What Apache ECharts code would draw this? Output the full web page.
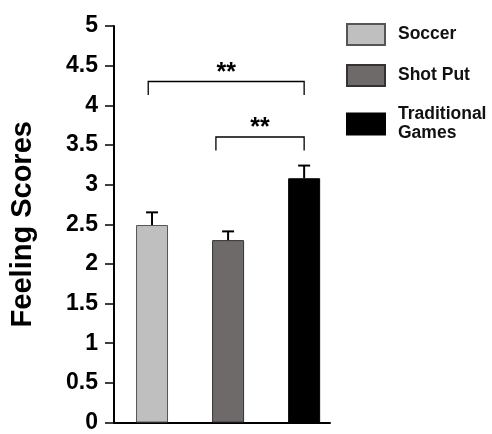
<!DOCTYPE html>
<html>
<head>
<meta charset="utf-8">
<script src="https://cdn.jsdelivr.net/npm/echarts@6/dist/echarts.min.js"></script>
<style>html,body{margin:0;padding:0;background:#fff}#c{width:492px;height:434px}</style>
</head>
<body>
<div id="c"></div>
<script>
// ---- data ----
var groups = ['Soccer', 'Shot Put', 'Traditional\nGames'];
var groupX = [0.5, 1.5, 2.5];
var means = [2.49, 2.30, 3.08];
var errors = [0.16, 0.11, 0.16];
var yTicks = [0, 0.5, 1, 1.5, 2, 2.5, 3, 3.5, 4, 4.5, 5];
// significance brackets: [xStart, xEnd, yTop, yEnd, labelY, label]
var bracketStart = [0.45, 1.34];
var bracketEnd = [2.5, 2.5];
var bracketTop = [4.30, 3.60];
var bracketFoot = [4.13, 3.43];
var bracketLabelY = [4.40, 3.71];
var bracketLabel = ['**', '**'];

var fills = ['#bfbfbf', '#6e6a6a', '#000000'];
var borders = ['#555555', '#333333', '#000000'];
var FONT = '"Liberation Sans", Arial, sans-serif';

var series = groups.map(function (g, i) {
  return {
    name: g,
    type: 'bar',
    barWidth: 32,
    barGap: '-100%',
    itemStyle: { color: fills[i], borderColor: borders[i], borderWidth: 1 },
    data: [[groupX[i], means[i]]],
    z: 2
  };
});

series.push({
  type: 'custom',
  name: 'err',
  z: 3,
  data: groupX.map(function (x, i) { return [x, means[i], means[i] + errors[i]]; }),
  renderItem: function (params, api) {
    var x = api.value(0);
    var p0 = api.coord([x, api.value(1)]);
    var p1 = api.coord([x, api.value(2)]);
    var st = { stroke: '#000', lineWidth: 2 };
    return { type: 'group', children: [
      { type: 'line', shape: { x1: p0[0], y1: p0[1], x2: p1[0], y2: p1[1] }, style: st },
      { type: 'line', shape: { x1: p1[0] - 6, y1: p1[1], x2: p1[0] + 6, y2: p1[1] }, style: st }
    ]};
  }
});

series.push({
  type: 'custom',
  name: 'sig',
  z: 3,
  data: bracketStart.map(function (s, i) {
    return [s, bracketEnd[i], bracketTop[i], bracketFoot[i], bracketLabelY[i]];
  }),
  renderItem: function (params, api) {
    var a = api.coord([api.value(0), api.value(3)]);
    var b = api.coord([api.value(0), api.value(2)]);
    var c = api.coord([api.value(1), api.value(2)]);
    var d = api.coord([api.value(1), api.value(3)]);
    var t = api.coord([(api.value(0) + api.value(1)) / 2, api.value(4)]);
    return { type: 'group', children: [
      { type: 'polyline', shape: { points: [a, b, c, d] }, style: { stroke: '#000', lineWidth: 1.3, fill: null } },
      { type: 'text', x: t[0], y: t[1], style: { text: bracketLabel[params.dataIndex], font: 'bold 25px ' + FONT, fill: '#000', align: 'center', verticalAlign: 'middle' } }
    ]};
  }
});

var chart = echarts.init(document.getElementById('c'));
chart.setOption({
  animation: false,
  backgroundColor: '#fff',
  textStyle: { fontFamily: FONT },
  grid: { left: 114, right: 162, top: 26, bottom: 9 },
  legend: {
    data: groups,
    orient: 'vertical',
    left: 346,
    top: 23,
    padding: 0,
    itemWidth: 38,
    itemHeight: 21,
    itemGap: 18,
    icon: 'rect',
    textStyle: { fontFamily: FONT, fontWeight: 'bold', fontSize: 17.5, color: '#111', lineHeight: 19, padding: [0, 0, 0, 8] }
  },
  xAxis: {
    type: 'value', min: 0, max: 2.84,
    axisLine: { show: true, onZero: false, lineStyle: { color: '#000', width: 2 } },
    axisTick: { show: false }, axisLabel: { show: false }, splitLine: { show: false }
  },
  yAxis: {
    type: 'value', min: yTicks[0], max: yTicks[yTicks.length - 1], interval: 0.5,
    name: 'Feeling Scores', nameLocation: 'middle', nameGap: 77, nameRotate: 90,
    nameTextStyle: { fontFamily: FONT, fontWeight: 'bold', fontSize: 29, color: '#000' },
    axisLine: { show: true, lineStyle: { color: '#000', width: 2 } },
    axisTick: { show: true, length: 9, lineStyle: { color: '#000', width: 1.5 } },
    axisLabel: { fontFamily: FONT, fontWeight: 'bold', fontSize: 23, color: '#000', margin: 16,
      formatter: function (v) { return String(v); } },
    splitLine: { show: false }
  },
  series: series
});
</script>
</body>
</html>
